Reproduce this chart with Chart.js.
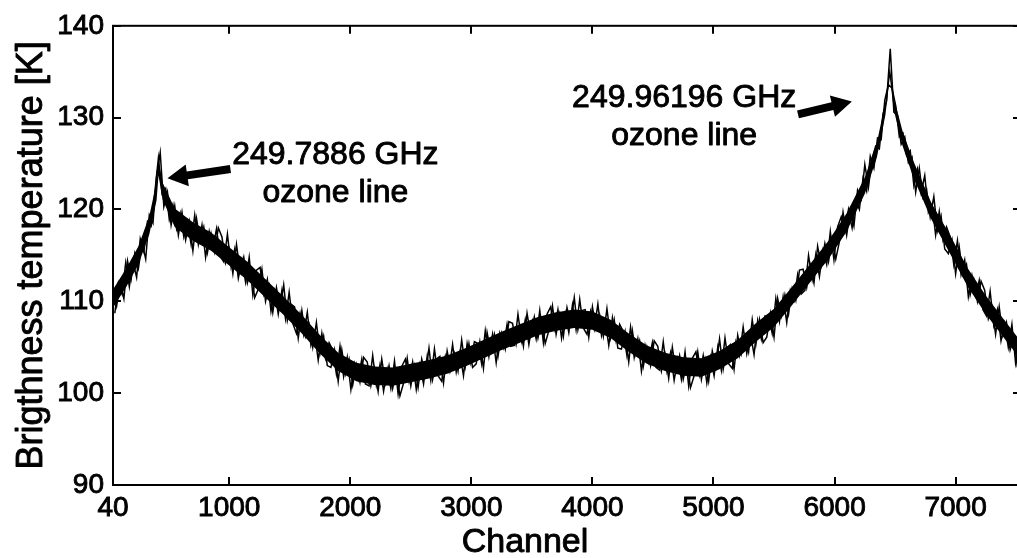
<!DOCTYPE html>
<html>
<head>
<meta charset="utf-8">
<title>Brightness temperature spectrum</title>
<script src="https://cdn.jsdelivr.net/npm/chart.js@4.4.1/dist/chart.umd.min.js"></script>
<style>
  html, body { margin: 0; padding: 0; background: #fff; overflow: hidden; }
  #graph { display: block; }
</style>
</head>
<body>
<canvas id="graph" width="1021" height="558"></canvas>
<script>
// spectrometer channels, even set
const channels = [
  40, 70, 100, 130, 160, 190, 220, 250, 280, 310,
  340, 370, 400, 430, 460, 490, 520, 550, 580, 610,
  640, 670, 700, 730, 760, 790, 820, 850, 880, 910,
  940, 970, 1000, 1030, 1060, 1090, 1120, 1150, 1180, 1210,
  1240, 1270, 1300, 1330, 1360, 1390, 1420, 1450, 1480, 1510,
  1540, 1570, 1600, 1630, 1660, 1690, 1720, 1750, 1780, 1810,
  1840, 1870, 1900, 1930, 1960, 1990, 2020, 2050, 2080, 2110,
  2140, 2170, 2200, 2230, 2260, 2290, 2320, 2350, 2380, 2410,
  2440, 2470, 2500, 2530, 2560, 2590, 2620, 2650, 2680, 2710,
  2740, 2770, 2800, 2830, 2860, 2890, 2920, 2950, 2980, 3010,
  3040, 3070, 3100, 3130, 3160, 3190, 3220, 3250, 3280, 3310,
  3340, 3370, 3400, 3430, 3460, 3490, 3520, 3550, 3580, 3610,
  3640, 3670, 3700, 3730, 3760, 3790, 3820, 3850, 3880, 3910,
  3940, 3970, 4000, 4030, 4060, 4090, 4120, 4150, 4180, 4210,
  4240, 4270, 4300, 4330, 4360, 4390, 4420, 4450, 4480, 4510,
  4540, 4570, 4600, 4630, 4660, 4690, 4720, 4750, 4780, 4810,
  4840, 4870, 4900, 4930, 4960, 4990, 5020, 5050, 5080, 5110,
  5140, 5170, 5200, 5230, 5260, 5290, 5320, 5350, 5380, 5410,
  5440, 5470, 5500, 5530, 5560, 5590, 5620, 5650, 5680, 5710,
  5740, 5770, 5800, 5830, 5860, 5890, 5920, 5950, 5980, 6010,
  6040, 6070, 6100, 6130, 6160, 6190, 6220, 6250, 6280, 6310,
  6340, 6370, 6400, 6430, 6460, 6490, 6520, 6550, 6580, 6610,
  6640, 6670, 6700, 6730, 6760, 6790, 6820, 6850, 6880, 6910,
  6940, 6970, 7000, 7030, 7060, 7090, 7120, 7150, 7180, 7210,
  7240, 7270, 7300, 7330, 7360, 7390, 7420, 7450, 7480, 7510
];

// brightness temperature [K] on the even set, noise included
const brightness = [
  111.4, 109.5, 112.1, 110.3, 114.4, 112.4, 115.2, 113.6, 116.4, 114.6,
  119.4, 118.5, 123.6, 126.2, 120.3, 121.9, 118.3, 120.4, 117.2, 119.7,
  116.7, 118.7, 115.5, 119.0, 116.5, 118.1, 115.3, 117.4, 115.4, 118.0,
  117.0, 114.2, 115.7, 113.0, 116.2, 113.2, 114.8, 112.0, 113.5, 110.4,
  111.3, 113.5, 110.0, 111.7, 108.8, 111.5, 109.3, 111.8, 107.9, 109.7,
  109.4, 106.0, 109.0, 106.2, 107.5, 105.0, 107.7, 104.3, 106.2, 103.0,
  102.8, 104.7, 101.3, 104.7, 102.1, 103.7, 100.9, 103.1, 101.2, 103.9,
  103.4, 100.8, 102.7, 100.2, 103.7, 101.1, 103.0, 100.5, 102.5, 99.7,
  101.1, 103.8, 100.8, 103.0, 100.6, 103.7, 101.9, 104.9, 101.5, 103.7,
  104.0, 101.1, 104.6, 102.5, 104.3, 102.4, 105.8, 102.9, 105.4, 102.8,
  103.2, 105.6, 102.7, 106.6, 104.5, 106.4, 104.0, 106.5, 104.8, 107.8,
  107.6, 105.3, 107.3, 105.1, 108.7, 106.3, 108.3, 106.0, 108.0, 105.4,
  106.8, 109.5, 106.4, 108.6, 106.2, 109.3, 107.5, 110.4, 106.9, 109.0,
  109.1, 106.1, 109.4, 107.0, 108.5, 106.2, 109.2, 106.0, 108.0, 104.9,
  104.8, 106.7, 103.4, 106.8, 104.2, 105.7, 102.9, 105.0, 103.0, 105.7,
  105.1, 102.4, 104.2, 101.6, 105.0, 102.3, 104.1, 101.5, 103.4, 100.6,
  101.9, 104.5, 101.5, 103.7, 101.3, 104.6, 102.8, 105.9, 102.6, 104.9,
  105.3, 102.6, 106.3, 104.3, 106.3, 104.5, 108.0, 105.3, 108.0, 105.5,
  106.1, 108.7, 106.1, 110.3, 108.4, 110.7, 108.6, 111.4, 110.1, 113.4,
  113.5, 111.5, 113.9, 112.0, 116.0, 113.9, 116.3, 114.3, 116.8, 114.6,
  116.5, 119.7, 117.2, 120.0, 118.2, 122.1, 121.1, 124.9, 122.4, 125.6,
  126.9, 126.6, 130.4, 131.8, 137.5, 130.6, 130.2, 127.1, 127.9, 125.1,
  125.7, 121.9, 124.5, 121.3, 122.2, 119.2, 121.4, 117.7, 119.3, 115.7,
  115.2, 116.7, 113.0, 115.9, 112.9, 114.0, 110.7, 112.4, 110.0, 112.2,
  111.2, 108.1, 109.4, 106.4, 109.4, 106.3, 107.7, 104.7, 106.1, 102.8
];

// spectrometer channels, odd set
const channelsOdd = [
  55, 85, 115, 145, 175, 205, 235, 265, 295, 325,
  355, 385, 415, 445, 475, 505, 535, 565, 595, 625,
  655, 685, 715, 745, 775, 805, 835, 865, 895, 925,
  955, 985, 1015, 1045, 1075, 1105, 1135, 1165, 1195, 1225,
  1255, 1285, 1315, 1345, 1375, 1405, 1435, 1465, 1495, 1525,
  1555, 1585, 1615, 1645, 1675, 1705, 1735, 1765, 1795, 1825,
  1855, 1885, 1915, 1945, 1975, 2005, 2035, 2065, 2095, 2125,
  2155, 2185, 2215, 2245, 2275, 2305, 2335, 2365, 2395, 2425,
  2455, 2485, 2515, 2545, 2575, 2605, 2635, 2665, 2695, 2725,
  2755, 2785, 2815, 2845, 2875, 2905, 2935, 2965, 2995, 3025,
  3055, 3085, 3115, 3145, 3175, 3205, 3235, 3265, 3295, 3325,
  3355, 3385, 3415, 3445, 3475, 3505, 3535, 3565, 3595, 3625,
  3655, 3685, 3715, 3745, 3775, 3805, 3835, 3865, 3895, 3925,
  3955, 3985, 4015, 4045, 4075, 4105, 4135, 4165, 4195, 4225,
  4255, 4285, 4315, 4345, 4375, 4405, 4435, 4465, 4495, 4525,
  4555, 4585, 4615, 4645, 4675, 4705, 4735, 4765, 4795, 4825,
  4855, 4885, 4915, 4945, 4975, 5005, 5035, 5065, 5095, 5125,
  5155, 5185, 5215, 5245, 5275, 5305, 5335, 5365, 5395, 5425,
  5455, 5485, 5515, 5545, 5575, 5605, 5635, 5665, 5695, 5725,
  5755, 5785, 5815, 5845, 5875, 5905, 5935, 5965, 5995, 6025,
  6055, 6085, 6115, 6145, 6175, 6205, 6235, 6265, 6295, 6325,
  6355, 6385, 6415, 6445, 6475, 6505, 6535, 6565, 6595, 6625,
  6655, 6685, 6715, 6745, 6775, 6805, 6835, 6865, 6895, 6925,
  6955, 6985, 7015, 7045, 7075, 7105, 7135, 7165, 7195, 7225,
  7255, 7285, 7315, 7345, 7375, 7405, 7435, 7465, 7495, 7525
];

// brightness temperature [K] on the odd set, noise included
const brightnessOdd = [
  108.7, 112.0, 110.8, 114.2, 111.6, 114.3, 112.6, 116.8, 115.4, 118.7,
  118.2, 121.8, 125.6, 121.7, 122.3, 118.9, 120.5, 117.9, 119.6, 117.0,
  118.7, 116.2, 119.4, 116.2, 118.3, 114.8, 117.6, 115.8, 117.9, 114.9,
  114.3, 117.3, 113.8, 115.7, 112.5, 114.5, 112.1, 114.8, 110.7, 113.4,
  113.7, 110.8, 112.4, 108.9, 111.1, 108.6, 111.2, 108.1, 111.0, 107.6,
  106.5, 108.7, 106.4, 108.8, 105.2, 106.6, 103.6, 106.5, 103.8, 105.5,
  104.7, 102.1, 105.1, 101.8, 103.9, 100.4, 103.2, 101.5, 103.7, 101.0,
  100.8, 104.1, 100.9, 103.1, 100.2, 102.6, 100.5, 103.5, 99.9, 102.9,
  103.7, 101.3, 103.4, 100.4, 103.1, 101.0, 104.0, 101.4, 104.8, 101.9,
  101.3, 104.0, 102.4, 105.3, 102.3, 104.4, 101.9, 105.4, 103.3, 105.6,
  105.4, 103.2, 106.8, 104.0, 106.4, 103.3, 106.5, 105.0, 107.5, 105.1,
  105.2, 108.6, 105.7, 108.0, 105.3, 107.8, 105.9, 109.0, 105.5, 108.6,
  109.4, 107.0, 109.1, 106.0, 108.7, 106.6, 109.6, 106.9, 110.2, 107.1,
  106.4, 108.9, 107.0, 109.7, 106.3, 108.0, 105.2, 108.2, 105.7, 107.5,
  106.7, 104.1, 107.2, 103.9, 105.9, 102.4, 105.2, 103.4, 105.5, 102.8,
  102.5, 105.6, 102.4, 104.4, 101.4, 103.7, 101.5, 104.5, 100.8, 103.8,
  104.5, 102.0, 104.1, 101.1, 103.9, 101.9, 105.0, 102.5, 106.0, 103.2,
  102.7, 105.6, 104.1, 107.2, 104.3, 106.5, 104.2, 107.9, 105.9, 108.4,
  108.4, 106.5, 110.3, 107.8, 110.5, 107.7, 111.2, 110.1, 112.9, 110.8,
  111.2, 115.0, 112.4, 115.1, 112.7, 115.6, 114.0, 117.6, 114.5, 118.1,
  119.2, 117.6, 120.0, 118.0, 121.0, 120.0, 123.4, 122.0, 125.8, 124.5,
  127.8, 127.6, 131.9, 133.6, 133.2, 131.3, 127.9, 128.3, 125.9, 126.4,
  122.6, 124.4, 121.8, 123.7, 119.7, 120.6, 117.2, 119.8, 116.7, 118.1,
  117.0, 114.0, 116.6, 112.9, 114.5, 110.5, 112.8, 110.6, 112.3, 109.1,
  108.4, 111.1, 107.4, 109.1, 105.7, 107.6, 105.0, 107.5, 103.3, 105.8
];

// dense core of the noise band: lower and upper edge [K]
const coreChannels = [
  40, 150, 250, 340, 400, 416, 450, 550, 700, 850,
  1000, 1150, 1300, 1450, 1600, 1750, 1900, 2050, 2200, 2350,
  2500, 2650, 2800, 2950, 3100, 3250, 3400, 3550, 3700, 3850,
  4000, 4150, 4300, 4450, 4600, 4750, 4900, 5050, 5200, 5350,
  5500, 5650, 5800, 5950, 6100, 6250, 6350, 6420, 6456, 6490,
  6560, 6650, 6800, 6950, 7100, 7250, 7400, 7540
];
const coreLow = [
  109.3, 111.6, 114.0, 117.3, 121.0, 123.7, 121.1, 118.1, 116.6, 115.5,
  113.9, 112.3, 110.4, 108.5, 106.5, 104.3, 102.4, 101.3, 100.9, 100.8,
  101.2, 101.6, 102.1, 102.9, 103.8, 104.7, 105.5, 106.3, 106.8, 107.1,
  106.9, 106.0, 104.5, 103.2, 102.4, 101.9, 101.8, 102.6, 103.8, 105.6,
  107.2, 109.6, 112.1, 114.6, 117.6, 121.7, 125.7, 130.3, 134.4, 130.8,
  127.0, 123.5, 118.9, 115.3, 111.6, 108.6, 106.0, 103.6
];
const coreHigh = [
  111.3, 113.6, 116.0, 119.3, 123.0, 125.3, 122.9, 120.1, 118.6, 117.5,
  115.9, 114.3, 112.4, 110.5, 108.5, 106.3, 104.4, 103.3, 102.9, 102.8,
  103.2, 103.6, 104.1, 104.9, 105.8, 106.7, 107.5, 108.3, 108.8, 109.1,
  108.9, 108.0, 106.5, 105.2, 104.4, 103.9, 103.8, 104.6, 105.8, 107.6,
  109.2, 111.6, 114.1, 116.6, 119.6, 123.5, 127.3, 131.7, 135.6, 132.2,
  128.6, 125.3, 120.7, 117.3, 113.6, 110.6, 108.0, 105.6
];

const xTicks = [40, 1000, 2000, 3000, 4000, 5000, 6000, 7000];
const yTicks = [90, 100, 110, 120, 130, 140];

// line labels, anchored at (channel, K) on the first line's baseline
const lineLabels = [
  { x: 1877, y: 125.0, lines: ['249.7886 GHz', 'ozone line'] },
  { x: 4758, y: 131.2, lines: ['249.96196 GHz', 'ozone line'] }
];
const lineArrows = [
  { from: [1010, 124.4], to: [490, 123.4] },
  { from: [5698, 130.35], to: [6143, 131.76] }
];

const FONT = '"Liberation Sans", Arial, Helvetica, sans-serif';

function drawArrow(ctx, x0, y0, x1, y1) {
  const ang = Math.atan2(y1 - y0, x1 - x0);
  const len = Math.hypot(x1 - x0, y1 - y0);
  const shaft = 4, headLen = 20, headW = 11;
  ctx.save();
  ctx.translate(x0, y0);
  ctx.rotate(ang);
  ctx.beginPath();
  ctx.moveTo(0, -shaft);
  ctx.lineTo(len - headLen, -shaft);
  ctx.lineTo(len - headLen, -headW);
  ctx.lineTo(len, 0);
  ctx.lineTo(len - headLen, headW);
  ctx.lineTo(len - headLen, shaft);
  ctx.lineTo(0, shaft);
  ctx.closePath();
  ctx.fill();
  ctx.restore();
}

function boldText(ctx, text, x, y) {
  ctx.fillText(text, x, y);
  ctx.strokeText(text, x, y);
}

// box, inward ticks, axis titles and line labels
const frame = {
  id: 'frame',
  afterDraw(chart) {
    const { ctx, chartArea: a, scales: { x, y } } = chart;
    ctx.save();
    ctx.strokeStyle = '#000';
    ctx.fillStyle = '#000';
    ctx.lineWidth = 2;
    ctx.strokeRect(a.left, a.top, a.right - a.left, a.bottom - a.top);

    ctx.beginPath();
    xTicks.forEach(v => {
      const px = Math.round(x.getPixelForValue(v));
      ctx.moveTo(px, a.bottom); ctx.lineTo(px, a.bottom - 8);
      ctx.moveTo(px, a.top); ctx.lineTo(px, a.top + 8);
    });
    yTicks.forEach(v => {
      const py = Math.round(y.getPixelForValue(v));
      ctx.moveTo(a.left, py); ctx.lineTo(a.left + 8, py);
      ctx.moveTo(a.right, py); ctx.lineTo(a.right - 8, py);
    });
    ctx.stroke();

    ctx.lineWidth = 0.9;
    ctx.lineJoin = 'round';
    ctx.textAlign = 'center';
    ctx.textBaseline = 'alphabetic';
    ctx.font = '34px ' + FONT;
    boldText(ctx, 'Channel', 525, a.bottom + 67);

    ctx.save();
    ctx.translate(42, (a.top + a.bottom) / 2);
    ctx.rotate(-Math.PI / 2);
    ctx.font = '36px ' + FONT;
    boldText(ctx, 'Brigthness temperature [K]', 0, 0);
    ctx.restore();

    ctx.font = '32px ' + FONT;
    lineLabels.forEach(l => {
      const px = x.getPixelForValue(l.x);
      const py = y.getPixelForValue(l.y);
      l.lines.forEach((t, i) => boldText(ctx, t, px, py + i * 38));
    });
    lineArrows.forEach(ar => {
      drawArrow(ctx,
        x.getPixelForValue(ar.from[0]), y.getPixelForValue(ar.from[1]),
        x.getPixelForValue(ar.to[0]), y.getPixelForValue(ar.to[1]));
    });
    ctx.restore();
  }
};

const ctx = document.getElementById('graph').getContext('2d');

const tickFont = { family: FONT, size: 28 };
const pairs = (xs, ys) => xs.map((c, i) => ({ x: c, y: ys[i] }));

new Chart(ctx, {
  type: 'line',
  data: {
    datasets: [
      {
        data: pairs(coreChannels, coreLow),
        borderWidth: 0,
        pointRadius: 0,
        fill: false
      },
      {
        data: pairs(coreChannels, coreHigh),
        borderWidth: 0,
        pointRadius: 0,
        backgroundColor: '#000',
        fill: '-1'
      },
      {
        data: pairs(channels, brightness),
        borderColor: '#000',
        borderWidth: 1.5,
        pointRadius: 0,
        tension: 0,
        fill: false
      },
      {
        data: pairs(channelsOdd, brightnessOdd),
        borderColor: '#000',
        borderWidth: 1.5,
        pointRadius: 0,
        tension: 0,
        fill: false
      }
    ]
  },
  options: {
    responsive: false,
    animation: false,
    events: [],
    layout: { padding: { top: 24, left: 0, right: 0, bottom: 0 } },
    plugins: { legend: { display: false }, tooltip: { enabled: false } },
    scales: {
      x: {
        type: 'linear',
        min: 40,
        max: 7540,
        afterBuildTicks: s => { s.ticks = xTicks.map(v => ({ value: v })); },
        afterFit: s => { s.height = 73; },
        grid: { display: false, drawTicks: false },
        border: { display: false },
        ticks: {
          autoSkip: false,
          maxRotation: 0,
          padding: 6,
          color: '#000',
          textStrokeColor: '#000',
          textStrokeWidth: 0.9,
          font: tickFont,
          callback: v => String(v)
        }
      },
      y: {
        min: 90,
        max: 140,
        afterBuildTicks: s => { s.ticks = yTicks.map(v => ({ value: v })); },
        afterFit: s => { s.width = 113; },
        grid: { display: false, drawTicks: false },
        border: { display: false },
        ticks: {
          padding: 9,
          color: '#000',
          textStrokeColor: '#000',
          textStrokeWidth: 0.9,
          font: tickFont,
          callback: v => String(v)
        }
      }
    }
  },
  plugins: [frame]
});
</script>
</body>
</html>
